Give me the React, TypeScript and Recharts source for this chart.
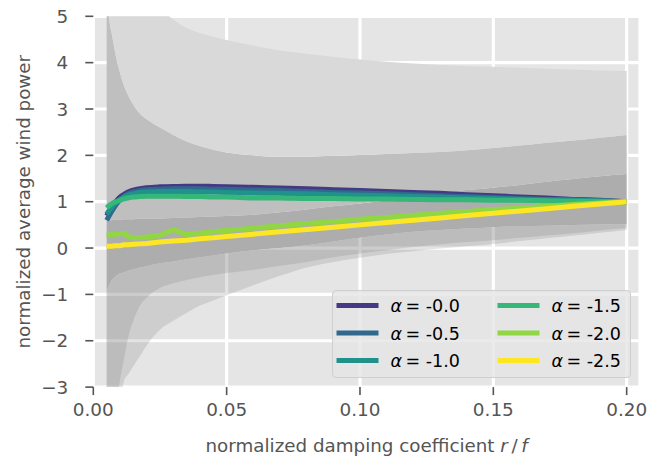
import React from 'react';
import { ComposedChart, Area, Line, XAxis, YAxis, CartesianGrid, Legend, Label } from 'recharts';

// damping coefficient grid (finer near the left edge where the spread blows up)
const X = [0.005, 0.006, 0.007, 0.008, 0.009, 0.01, 0.0115, 0.013, 0.015, 0.0175, 0.02, 0.025, 0.03, 0.035, 0.04, 0.045, 0.05, 0.06, 0.07, 0.08, 0.09, 0.1, 0.11, 0.12, 0.13, 0.14, 0.15, 0.16, 0.17, 0.18, 0.19, 0.2];

// spread envelopes
const OUTER_UPPER = [14, 12.5, 11.2, 10.2, 9.4, 8.7, 7.9, 7.3, 6.7, 6.1, 5.7, 5.2, 4.93, 4.75, 4.64, 4.56, 4.49, 4.37, 4.26, 4.19, 4.13, 4.07, 4.02, 3.98, 3.95, 3.93, 3.91, 3.89, 3.87, 3.85, 3.83, 3.82];
const MID_UPPER = [6.5, 4.95, 4.6, 4.28, 4.0, 3.78, 3.5, 3.3, 3.09, 2.9, 2.78, 2.6, 2.44, 2.3, 2.2, 2.12, 2.06, 2.0, 1.97, 1.97, 1.99, 2.01, 2.03, 2.05, 2.07, 2.11, 2.16, 2.21, 2.27, 2.32, 2.38, 2.44];
const CORE_UPPER = [0.6, 0.6, 0.6, 0.61, 0.61, 0.61, 0.62, 0.62, 0.62, 0.63, 0.63, 0.64, 0.65, 0.66, 0.67, 0.68, 0.69, 0.72, 0.77, 0.83, 0.9, 0.96, 1.03, 1.11, 1.19, 1.25, 1.3, 1.36, 1.43, 1.49, 1.55, 1.6];
const CORE_LOWER = [-0.91, -0.8, -0.69, -0.63, -0.58, -0.55, -0.52, -0.49, -0.46, -0.42, -0.39, -0.33, -0.29, -0.24, -0.2, -0.16, -0.12, -0.05, 0.0, 0.06, 0.14, 0.22, 0.29, 0.35, 0.39, 0.42, 0.45, 0.47, 0.48, 0.5, 0.51, 0.52];
const MID_LOWER = [-9, -6.5, -5, -3.9, -3.25, -2.85, -2.4, -1.95, -1.57, -1.24, -1.07, -0.86, -0.76, -0.69, -0.63, -0.58, -0.54, -0.47, -0.38, -0.3, -0.2, -0.12, -0.05, 0.02, 0.08, 0.13, 0.17, 0.22, 0.27, 0.32, 0.38, 0.43];
const OUTER_LOWER = [-12, -9, -7, -5.5, -4.4, -3.5, -2.87, -2.73, -2.55, -2.33, -2.1, -1.76, -1.57, -1.4, -1.24, -1.13, -1.02, -0.8, -0.6, -0.42, -0.3, -0.21, -0.13, -0.07, -0.01, 0.04, 0.09, 0.15, 0.21, 0.27, 0.33, 0.39];

// mean normalized power per exponent alpha
const P_ALPHA_00 = [0.7, 0.8, 0.89, 0.97, 1.04, 1.1, 1.16, 1.21, 1.25, 1.28, 1.3, 1.32, 1.33, 1.335, 1.335, 1.33, 1.325, 1.31, 1.295, 1.28, 1.26, 1.24, 1.22, 1.2, 1.18, 1.15, 1.13, 1.1, 1.08, 1.05, 1.03, 1.0];
const P_ALPHA_05 = [0.6, 0.7, 0.8, 0.89, 0.97, 1.04, 1.11, 1.17, 1.21, 1.24, 1.26, 1.27, 1.28, 1.28, 1.28, 1.27, 1.27, 1.25, 1.24, 1.22, 1.2, 1.19, 1.17, 1.15, 1.13, 1.11, 1.09, 1.07, 1.05, 1.04, 1.02, 1.0];
const P_ALPHA_10 = [0.73, 0.81, 0.88, 0.95, 1.0, 1.05, 1.1, 1.14, 1.17, 1.2, 1.21, 1.22, 1.22, 1.22, 1.21, 1.21, 1.2, 1.19, 1.18, 1.17, 1.15, 1.14, 1.13, 1.11, 1.1, 1.08, 1.07, 1.05, 1.04, 1.03, 1.01, 1.0];
const P_ALPHA_15 = [0.87, 0.92, 0.96, 0.99, 1.01, 1.03, 1.06, 1.08, 1.1, 1.11, 1.12, 1.12, 1.12, 1.11, 1.11, 1.1, 1.1, 1.08, 1.08, 1.07, 1.07, 1.06, 1.06, 1.05, 1.04, 1.04, 1.03, 1.03, 1.02, 1.01, 1.01, 1.0];
const P_ALPHA_20 = [0.28, 0.28, 0.29, 0.29, 0.3, 0.31, 0.32, 0.25, 0.22, 0.23, 0.24, 0.27, 0.4, 0.29, 0.32, 0.35, 0.38, 0.43, 0.48, 0.53, 0.57, 0.62, 0.66, 0.71, 0.75, 0.79, 0.83, 0.86, 0.9, 0.94, 0.97, 1.0];
const P_ALPHA_25 = [0.04, 0.04, 0.04, 0.05, 0.05, 0.05, 0.07, 0.07, 0.08, 0.09, 0.1, 0.13, 0.15, 0.17, 0.2, 0.22, 0.25, 0.3, 0.35, 0.4, 0.45, 0.5, 0.55, 0.6, 0.65, 0.7, 0.75, 0.8, 0.85, 0.9, 0.95, 1.0];

const ALPHA_LABELS = ['-0.0', '-0.5', '-1.0', '-1.5', '-2.0', '-2.5'];
const SERIES = [P_ALPHA_00, P_ALPHA_05, P_ALPHA_10, P_ALPHA_15, P_ALPHA_20, P_ALPHA_25];
const COLORS = ['#443983', '#31688e', '#21918c', '#35b779', '#90d743', '#fde725'];
const CURVES: ('monotone' | 'linear')[] = ['monotone', 'monotone', 'monotone', 'monotone', 'linear', 'linear'];

const X_TICKS = [0, 0.05, 0.1, 0.15, 0.2];
const Y_TICKS = [-3, -2, -1, 0, 1, 2, 3, 4, 5];

const FONT = '"DejaVu Sans", sans-serif';
const TEXT_GREY = '#555555';

const rows = X.map((x, i) => {
  const row: Record<string, any> = {
    x,
    outerLow: [OUTER_LOWER[i], CORE_LOWER[i]],
    midLow: [MID_LOWER[i], CORE_LOWER[i]],
    core: [CORE_LOWER[i], CORE_UPPER[i]],
    midHigh: [CORE_UPPER[i], MID_UPPER[i]],
    outerHigh: [MID_UPPER[i], OUTER_UPPER[i]],
  };
  SERIES.forEach((s, k) => {
    row[`s${k}`] = s[i];
  });
  return row;
});

const fmtY = (v: number) => (v < 0 ? `\u2212${Math.abs(v)}` : `${v}`);

const LegendBox = () => {
  const colX = [4.5, 165.5];
  const rowY = [15.5, 43, 70.5];
  return (
    <div
      style={{
        width: 299,
        height: 88,
        boxSizing: 'border-box',
        background: 'rgba(229,229,229,0.8)',
        border: '1px solid #cfcfcf',
        borderRadius: 4,
        position: 'relative',
      }}
    >
      <svg width={299} height={88} style={{ position: 'absolute', left: -1, top: -1 }}>
        {ALPHA_LABELS.map((lab, k) => {
          const cx = colX[Math.floor(k / 3)];
          const cy = rowY[k % 3];
          return (
            <g key={lab}>
              <line x1={cx} x2={cx + 42} y1={cy} y2={cy} stroke={COLORS[k]} strokeWidth={5} />
              <text x={cx + 54} y={cy + 6.5} fontFamily={FONT} fontSize={17.5} fill="#000">
                <tspan fontStyle="italic">α</tspan>
                <tspan>{'\u2009= '}{lab}</tspan>
              </text>
            </g>
          );
        })}
      </svg>
    </div>
  );
};

export default function App() {
  return (
    <div style={{ position: 'absolute', left: 0, top: 0, width: 662, height: 457, background: '#fff' }}>
      <ComposedChart
        width={662}
        height={457}
        data={rows}
        margin={{ top: 16.3, right: 22, bottom: 0, left: 0 }}
      >
        <CartesianGrid fill="#e5e5e5" stroke="#ffffff" strokeWidth={3.2} />
        <XAxis
          dataKey="x"
          type="number"
          domain={[0, 0.205]}
          allowDataOverflow
          ticks={X_TICKS}
          tickFormatter={(v: number) => v.toFixed(2)}
          axisLine={false}
          tickSize={8}
          tickMargin={8}
          tickLine={{ stroke: TEXT_GREY, strokeWidth: 1.6 }}
          tick={{ fill: TEXT_GREY, fontSize: 18.4, fontFamily: FONT }}
          height={69.9}
        >
          <Label
            content={(props: any) => {
              const vb = props.viewBox || { x: 93.3, width: 546.7 };
              return (
                <text
                  x={vb.x + vb.width / 2}
                  y={452}
                  textAnchor="middle"
                  fontFamily={FONT}
                  fontSize={18.3}
                  fill={TEXT_GREY}
                >
                  normalized damping coefficient{' '}
                  <tspan fontStyle="italic">r</tspan>
                  <tspan>{'\u2009/\u2009'}</tspan>
                  <tspan fontStyle="italic">f</tspan>
                </text>
              );
            }}
          />
        </XAxis>
        <YAxis
          type="number"
          domain={[-3, 5]}
          allowDataOverflow
          ticks={Y_TICKS}
          tickFormatter={fmtY}
          axisLine={false}
          tickSize={8}
          tickMargin={17}
          tickLine={{ stroke: TEXT_GREY, strokeWidth: 1.6 }}
          tick={{ fill: TEXT_GREY, fontSize: 18.4, fontFamily: FONT }}
          width={93.3}
        >
          <Label
            content={(props: any) => {
              const vb = props.viewBox || { y: 16.3, height: 370.8 };
              const cy = vb.y + vb.height / 2;
              return (
                <text
                  x={30}
                  y={cy}
                  textAnchor="middle"
                  transform={`rotate(-90, 30, ${cy})`}
                  fontFamily={FONT}
                  fontSize={18.3}
                  fill={TEXT_GREY}
                >
                  normalized average wind power
                </text>
              );
            }}
          />
        </YAxis>

        {/* translucent lower spread */}
        <Area dataKey="outerLow" type="monotone" stroke="none" fill="#808080" fillOpacity={0.22} isAnimationActive={false} />
        <Area dataKey="midLow" type="monotone" stroke="none" fill="#808080" fillOpacity={0.23} isAnimationActive={false} />
        {/* dense spread bands */}
        <Area dataKey="core" type="monotone" stroke="none" fill="#adadad" fillOpacity={1} isAnimationActive={false} />
        <Area dataKey="midHigh" type="monotone" stroke="none" fill="#bfbfbf" fillOpacity={1} isAnimationActive={false} />
        <Area dataKey="outerHigh" type="monotone" stroke="none" fill="#d9d9d9" fillOpacity={1} isAnimationActive={false} />

        {SERIES.map((_, k) => (
          <Line
            key={k}
            dataKey={`s${k}`}
            name={`α = ${ALPHA_LABELS[k]}`}
            type={CURVES[k]}
            stroke={COLORS[k]}
            strokeWidth={5}
            strokeLinejoin="round"
            dot={false}
            activeDot={false}
            isAnimationActive={false}
          />
        ))}

        <Legend
          layout="horizontal"
          align="center"
          verticalAlign="middle"
          width={299}
          height={88}
          wrapperStyle={{ left: 331.5, top: 289.5 }}
          content={() => <LegendBox />}
        />
      </ComposedChart>
    </div>
  );
}
